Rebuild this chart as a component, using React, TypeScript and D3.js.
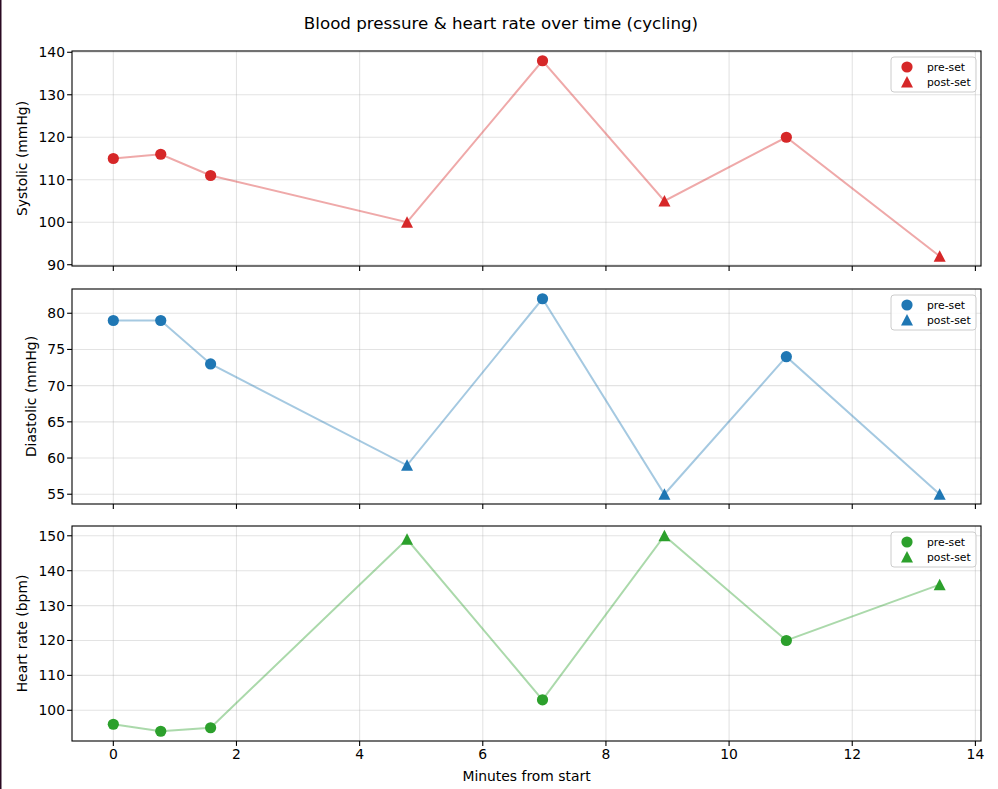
import * as d3 from 'd3';

// readings taken during the session
const minutes = [0, 0.77, 1.58, 4.77, 6.97, 8.95, 10.93, 13.42];
const phases = ['pre', 'pre', 'pre', 'post', 'pre', 'post', 'pre', 'post'];
const systolic = [115, 116, 111, 100, 138, 105, 120, 92];
const diastolic = [79, 79, 73, 59, 82, 55, 74, 55];
const heartRate = [96, 94, 95, 149, 103, 150, 120, 136];

const xTicks = [0, 2, 4, 6, 8, 10, 12, 14];

const panels = [
  { label: 'Systolic (mmHg)', values: systolic, color: '#d62728', ticks: [90, 100, 110, 120, 130, 140], top: 51, labelX: 22 },
  { label: 'Diastolic (mmHg)', values: diastolic, color: '#1f77b4', ticks: [55, 60, 65, 70, 75, 80], top: 289, labelX: 31 },
  { label: 'Heart rate (bpm)', values: heartRate, color: '#2ca02c', ticks: [100, 110, 120, 130, 140, 150], top: 526, labelX: 22 },
];

const W = 998;
const H = 789;
const left = 72;
const right = 981;
const panelH = 215;
const font = 'DejaVu Sans, sans-serif';
const ms = 5.6;

function pad([lo, hi]: [number, number]): [number, number] {
  const m = (hi - lo) * 0.05;
  return [lo - m, hi + m];
}

const x = d3.scaleLinear().domain(pad(d3.extent(minutes) as [number, number])).range([left, right]);

function Marker({ kind, cx, cy, color }: { kind: string; cx: number; cy: number; color: string }) {
  if (kind === 'pre') return <circle cx={cx} cy={cy} r={ms} fill={color} />;
  return <path d={`M${cx},${cy - ms - 0.4}L${cx - ms - 0.4},${cy + ms}L${cx + ms + 0.4},${cy + ms}Z`} fill={color} />;
}

function Panel({ p, last }: { p: (typeof panels)[number]; last: boolean }) {
  const bottom = p.top + panelH;
  const y = d3.scaleLinear().domain(pad(d3.extent(p.values) as [number, number])).range([bottom, p.top]);
  const line = d3
    .line<number>()
    .x((_, i) => x(minutes[i]))
    .y((v) => y(v));
  const lx = 891;
  const ly = p.top + 6;
  return (
    <g>
      {/* grid */}
      {xTicks.map((t) => (
        <line key={'gx' + t} x1={x(t)} x2={x(t)} y1={p.top} y2={bottom} stroke="#b0b0b0" strokeOpacity={0.35} strokeWidth={1.1} />
      ))}
      {p.ticks.map((t) => (
        <line key={'gy' + t} x1={left} x2={right} y1={y(t)} y2={y(t)} stroke="#b0b0b0" strokeOpacity={0.35} strokeWidth={1.1} />
      ))}
      <path d={line(p.values) || ''} fill="none" stroke={p.color} strokeOpacity={0.4} strokeWidth={2} />
      {p.values.map((v, i) => (
        <Marker key={i} kind={phases[i]} cx={x(minutes[i])} cy={y(v)} color={p.color} />
      ))}
      <rect x={left} y={p.top} width={right - left} height={panelH} fill="none" stroke="#000" strokeWidth={1.1} />
      {/* x ticks */}
      {xTicks.map((t) => (
        <g key={'tx' + t}>
          <line x1={x(t)} x2={x(t)} y1={bottom} y2={bottom + 4.9} stroke="#000" strokeWidth={1.1} />
          {last && (
            <text x={x(t)} y={bottom + 18} textAnchor="middle" fontSize={13.9} fontFamily={font}>
              {t}
            </text>
          )}
        </g>
      ))}
      {/* y ticks */}
      {p.ticks.map((t) => (
        <g key={'ty' + t}>
          <line x1={left - 4.9} x2={left} y1={y(t)} y2={y(t)} stroke="#000" strokeWidth={1.1} />
          <text x={left - 7} y={y(t)} dy="0.36em" textAnchor="end" fontSize={13.9} fontFamily={font}>
            {t}
          </text>
        </g>
      ))}
      <text
        transform={`translate(${p.labelX},${(p.top + bottom) / 2}) rotate(-90)`}
        textAnchor="middle"
        dy="0.36em"
        fontSize={13.9}
        fontFamily={font}
      >
        {p.label}
      </text>
      {/* legend */}
      <rect x={lx} y={ly} width={85} height={35} rx={3} fill="#fff" fillOpacity={0.8} stroke="#ccc" strokeWidth={1} />
      <Marker kind="pre" cx={lx + 16} cy={ly + 10} color={p.color} />
      <text x={lx + 36} y={ly + 10} dy="0.36em" fontSize={10.8} fontFamily={font}>
        pre-set
      </text>
      <Marker kind="post" cx={lx + 16} cy={ly + 25} color={p.color} />
      <text x={lx + 36} y={ly + 25} dy="0.36em" fontSize={10.8} fontFamily={font}>
        post-set
      </text>
    </g>
  );
}

export default function App() {
  return (
    <svg width={W} height={H} style={{ position: 'absolute', left: 0, top: 0, background: '#fff' }}>
      <rect x={0} y={0} width={W} height={H} fill="#fff" />
      <rect x={0} y={0} width={1.5} height={H} fill="#2b0a22" />
      <text x={501} y={23} dy="0.36em" textAnchor="middle" fontSize={16.7} fontFamily={font}>
        Blood pressure &amp; heart rate over time (cycling)
      </text>
      {panels.map((p, i) => (
        <Panel key={p.label} p={p} last={i === panels.length - 1} />
      ))}
      <text x={(left + right) / 2} y={776} dy="0.36em" textAnchor="middle" fontSize={13.9} fontFamily={font}>
        Minutes from start
      </text>
    </svg>
  );
}
